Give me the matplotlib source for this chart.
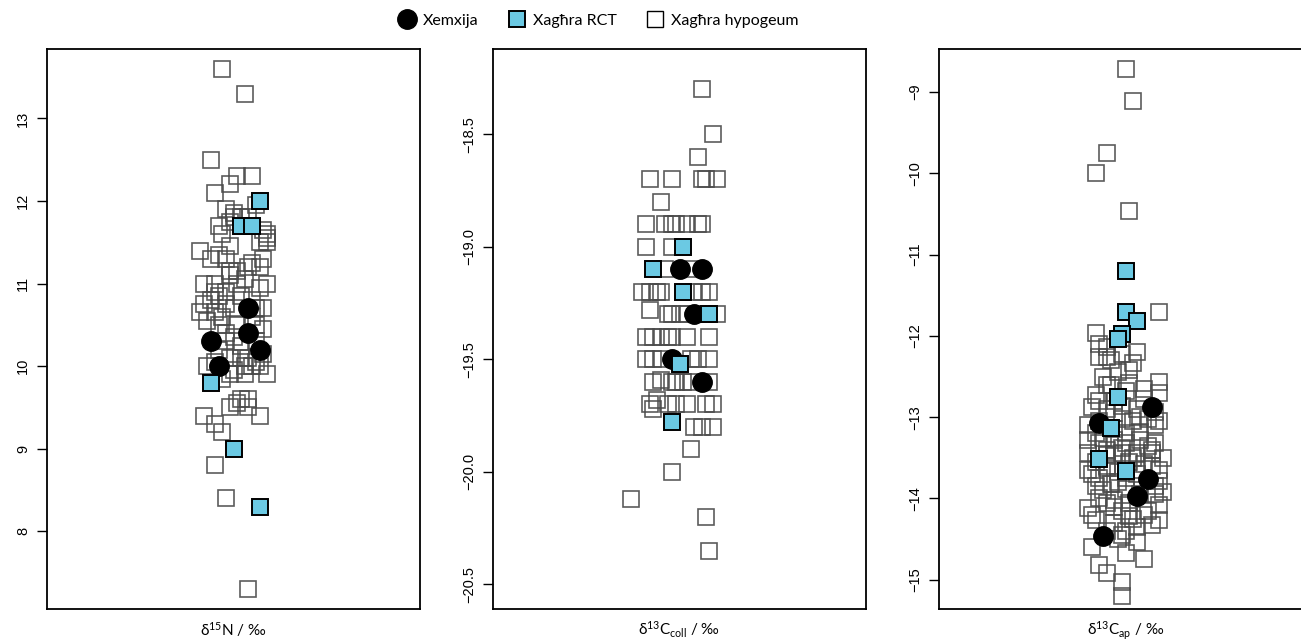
import matplotlib
matplotlib.use('Agg')
import matplotlib.pyplot as plt
from matplotlib.lines import Line2D

# ---- delta 15N ----
n15_hyp = [13.6, 13.3, 12.5, 12.3, 12.3, 12.2, 12.1, 11.95, 11.9, 11.8, 11.8, 11.8, 11.7, 11.65,
           11.6, 11.6, 11.55, 11.5, 11.4, 11.3, 11.3, 11.3, 11.2, 11.2, 11.15, 11.15, 11.1, 11.0,
           11.0, 11.0, 11.0, 10.9, 10.9, 10.85, 10.8, 10.75, 10.75, 10.7, 10.7, 10.65, 10.65, 10.6,
           10.5, 10.5, 10.5, 10.45, 10.4, 10.3, 10.3, 10.25, 10.2, 10.1, 10.1, 10.1, 10.05, 10.0,
           10.0, 10.0, 10.0, 9.95, 9.9, 9.9, 9.6, 9.6, 9.55, 9.5, 9.5, 9.4, 9.4, 9.3, 9.2, 8.8,
           8.4, 7.3, 11.85, 11.75, 11.5, 11.35, 11.25, 11.05, 10.95, 10.85, 10.7, 10.6, 10.55,
           10.35, 10.15, 10.05, 9.9, 9.85, 11.45, 10.8]
n15_hyp_x = [0.97, 1.03, 0.94, 1.01, 1.05, 0.99, 0.95, 1.06, 0.98, 1.00, 1.02, 1.04, 0.96, 1.08,
             0.97, 1.09, 1.09, 1.09, 0.91, 0.94, 0.98, 1.08, 1.04, 1.07, 0.99, 1.01, 0.99, 0.92,
             0.95, 1.01, 1.09, 0.95, 0.98, 1.02, 0.94, 0.92, 0.98, 1.08, 1.06, 0.91, 0.95, 0.97,
             0.96, 1.01, 1.06, 1.08, 0.98, 0.98, 1.06, 1.02, 0.96, 0.99, 1.02, 1.04, 1.06, 0.93,
             1.03, 1.05, 1.07, 1.00, 0.99, 1.09, 1.02, 1.04, 1.01, 0.99, 1.04, 0.92, 1.07, 0.95,
             0.97, 0.95, 0.98, 1.04, 1.00, 0.99, 1.07, 0.96, 1.05, 1.03, 1.07, 0.96, 1.00, 1.05,
             0.93, 1.00, 1.08, 0.95, 1.03, 0.97, 0.99, 1.05]
n15_xem = [10.7, 10.4, 10.3, 10.2, 10.0]
n15_xem_x = [1.04, 1.04, 0.94, 1.07, 0.96]
n15_rct = [12.0, 11.7, 11.7, 9.8, 9.0, 8.3]
n15_rct_x = [1.07, 1.02, 1.05, 0.94, 1.00, 1.07]

# ---- delta 13C collagen ----
c13coll_hyp = [-18.3, -18.5, -18.6, -18.7, -18.7, -18.7, -18.7, -18.7, -18.8, -18.9, -18.9, -18.9,
               -18.9, -18.9, -18.9, -18.9, -19.0, -19.0, -19.1, -19.1, -19.2, -19.2, -19.2, -19.2,
               -19.2, -19.2, -19.2, -19.28, -19.3, -19.3, -19.3, -19.3, -19.3, -19.3, -19.4, -19.4,
               -19.4, -19.4, -19.4, -19.4, -19.4, -19.5, -19.5, -19.5, -19.5, -19.5, -19.5, -19.59,
               -19.6, -19.6, -19.6, -19.6, -19.6, -19.6, -19.68, -19.7, -19.72, -19.7, -19.7, -19.7,
               -19.7, -19.7, -19.8, -19.8, -19.8, -19.9, -20.0, -20.12, -20.2, -20.35]
c13coll_hyp_x = [1.06, 1.09, 1.05, 0.92, 0.98, 1.06, 1.07, 1.10, 0.95, 0.91, 0.96, 0.98,
                 0.99, 1.02, 1.05, 1.06, 0.91, 0.98, 0.96, 1.04, 0.90, 0.92, 0.94, 0.95,
                 1.04, 1.06, 1.08, 0.92, 0.97, 0.98, 1.00, 1.02, 1.05, 1.10, 0.91, 0.93,
                 0.95, 0.97, 0.98, 1.02, 1.08, 0.91, 0.93, 0.95, 1.03, 1.05, 1.08, 0.95,
                 0.93, 0.98, 0.99, 1.01, 1.03, 1.08, 0.94, 0.92, 0.93, 0.97, 0.99, 1.02,
                 1.07, 1.09, 1.04, 1.06, 1.09, 1.03, 0.98, 0.87, 1.07, 1.08]
c13coll_xem = [-19.1, -19.1, -19.3, -19.5, -19.6]
c13coll_xem_x = [1.00, 1.06, 1.04, 0.98, 1.06]
c13coll_rct = [-19.0, -19.1, -19.2, -19.3, -19.52, -19.78]
c13coll_rct_x = [1.01, 0.93, 1.01, 1.08, 1.00, 0.98]

# ---- delta 13C apatite ----
c13ap_hyp = [-8.72, -9.11, -9.75, -10.0, -10.46, -11.7, -11.97, -12.1, -12.14, -12.2, -12.26, -12.26,
             -12.22, -12.33, -12.42, -12.3, -12.57, -12.6, -12.6, -12.58, -12.73, -12.7, -12.68,
             -12.88, -12.9, -12.86, -12.9, -12.94, -12.8, -12.8, -12.78, -13.1, -13.05, -13.02,
             -13.05, -13.02, -13.05, -13.15, -13.18, -13.2, -13.28, -13.32, -13.28, -13.32, -13.28,
             -13.32, -13.38, -13.4, -13.4, -13.44, -13.46, -13.44, -13.44, -13.44, -13.5, -13.55,
             -13.55, -13.58, -13.65, -13.63, -13.67, -13.65, -13.65, -13.75, -13.75, -13.78, -13.85,
             -13.82, -13.88, -13.85, -13.92, -13.95, -14.0, -14.02, -14.12, -14.05, -14.15, -14.15,
             -14.08, -14.22, -14.27, -14.3, -14.25, -14.33, -14.27, -14.4, -14.4, -14.6, -14.5,
             -14.67, -14.53, -14.82, -14.75, -14.92, -15.03, -15.2,
             -12.95, -13.0, -13.1, -13.2, -13.25, -13.35, -13.45, -13.5, -13.6, -13.6, -13.7,
             -13.7, -13.8, -13.9, -13.95, -14.05, -14.1, -14.2, -14.2, -14.35, -14.45, -12.45,
             -12.5, -12.65, -12.75]
c13ap_hyp_x = [1.00, 1.02, 0.95, 0.92, 1.01, 1.09, 0.92, 0.93, 0.95, 1.03, 0.93, 0.95,
               0.99, 1.02, 1.01, 0.96, 1.09, 0.96, 0.95, 1.01, 0.92, 1.09, 1.00,
               0.91, 0.95, 0.99, 1.03, 1.08, 0.93, 0.97, 1.05, 0.90, 0.93, 0.99,
               1.02, 1.06, 1.09, 0.97, 1.04, 0.92, 0.90, 0.93, 0.97, 1.00, 1.04,
               1.08, 0.99, 0.95, 1.07, 0.90, 0.95, 0.99, 1.03, 1.07, 1.10, 0.92,
               1.01, 1.05, 0.90, 0.95, 0.98, 1.03, 1.09, 0.93, 1.00, 1.09, 0.92,
               0.96, 1.00, 1.08, 1.10, 1.04, 0.93, 0.97, 0.90, 0.95, 0.99, 1.06,
               1.09, 1.01, 0.92, 0.97, 1.02, 1.07, 1.09, 0.95, 1.00, 0.91, 0.98,
               1.00, 1.03, 0.93, 1.05, 0.95, 0.99, 0.99,
               0.97, 1.04, 1.08, 1.00, 0.94, 1.06, 0.97, 1.02, 0.95, 1.07, 0.91,
               1.03, 0.98, 0.94, 1.08, 1.01, 0.97, 1.05, 0.91, 1.03, 0.99, 0.98,
               0.94, 1.05, 0.98]
c13ap_xem = [-12.87, -13.07, -13.76, -13.97, -14.46]
c13ap_xem_x = [1.07, 0.93, 1.06, 1.03, 0.94]
c13ap_rct = [-11.2, -11.71, -11.82, -11.98, -12.04, -12.75, -13.13, -13.51, -13.66]
c13ap_rct_x = [1.00, 1.00, 1.03, 0.99, 0.98, 0.98, 0.96, 0.93, 1.00]

panels = [
    (n15_hyp_x, n15_hyp, n15_xem_x, n15_xem, n15_rct_x, n15_rct,
     (7.06, 13.84), [8, 9, 10, 11, 12, 13], ['8', '9', '10', '11', '12', '13'],
     '\u03b4$^{15}$N / ‰'),
    (c13coll_hyp_x, c13coll_hyp, c13coll_xem_x, c13coll_xem, c13coll_rct_x, c13coll_rct,
     (-20.61, -18.12), [-20.5, -20.0, -19.5, -19.0, -18.5],
     ['\u221220.5', '\u221220.0', '\u221219.5', '\u221219.0', '\u221218.5'],
     '\u03b4$^{13}$C$_{\\mathrm{coll}}$ / ‰'),
    (c13ap_hyp_x, c13ap_hyp, c13ap_xem_x, c13ap_xem, c13ap_rct_x, c13ap_rct,
     (-15.36, -8.47), [-15, -14, -13, -12, -11, -10, -9],
     ['\u221215', '\u221214', '\u221213', '\u221212', '\u221211', '\u221210', '\u22129'],
     '\u03b4$^{13}$C$_{\\mathrm{ap}}$ / ‰'),
]

CYAN = '#6BC9E3'
HOLLOW = '#4a4a4a'

plt.rcParams['mathtext.fontset'] = 'custom'
plt.rcParams['mathtext.rm'] = 'Lato'
plt.rcParams['mathtext.it'] = 'Lato'

fig = plt.figure(figsize=(13.01, 6.42), dpi=100)
lefts = [47, 493, 939]
for left, (hx, hy, xx, xy, rx, ry, ylim, ticks, labels, xlab) in zip(lefts, panels):
    ax = fig.add_axes([left / 1301, 33 / 642, 373 / 1301, 560 / 642])
    ax.plot(hx, hy, 's', ms=11.5, mfc='none', mec=HOLLOW, mew=1.2, alpha=0.9, ls='none')
    ax.plot(xx, xy, 'o', ms=14, mfc='black', mec='black', ls='none')
    ax.plot(rx, ry, 's', ms=11.5, mfc=CYAN, mec='black', mew=1.4, ls='none')
    ax.set_xlim(0.5, 1.5)
    ax.set_ylim(*ylim)
    ax.set_xticks([])
    ax.set_yticks(ticks)
    ax.set_yticklabels(labels, rotation=90, va='center', family='Liberation Sans', fontsize=10.5)
    ax.tick_params(axis='y', length=7, width=1, pad=5)
    for sp in ax.spines.values():
        sp.set_linewidth(1.3)
    ax.set_xlabel(xlab, family='Lato', fontsize=11, labelpad=8)

handles = [
    Line2D([], [], marker='o', ls='none', ms=14, mfc='black', mec='black'),
    Line2D([], [], marker='s', ls='none', ms=11, mfc=CYAN, mec='black', mew=1.4),
    Line2D([], [], marker='s', ls='none', ms=11, mfc='white', mec='black', mew=1.0),
]
fig.legend(handles, ['Xemxija', 'Xagħra RCT', 'Xagħra hypogeum'], loc='center',
           bbox_to_anchor=(598 / 1301, 1 - 21 / 642), ncol=3, frameon=False,
           prop={'family': 'Lato', 'size': 11.5}, handletextpad=0.4, columnspacing=1.8,
           handlelength=1.2)

fig.savefig('out.png', dpi=100)
